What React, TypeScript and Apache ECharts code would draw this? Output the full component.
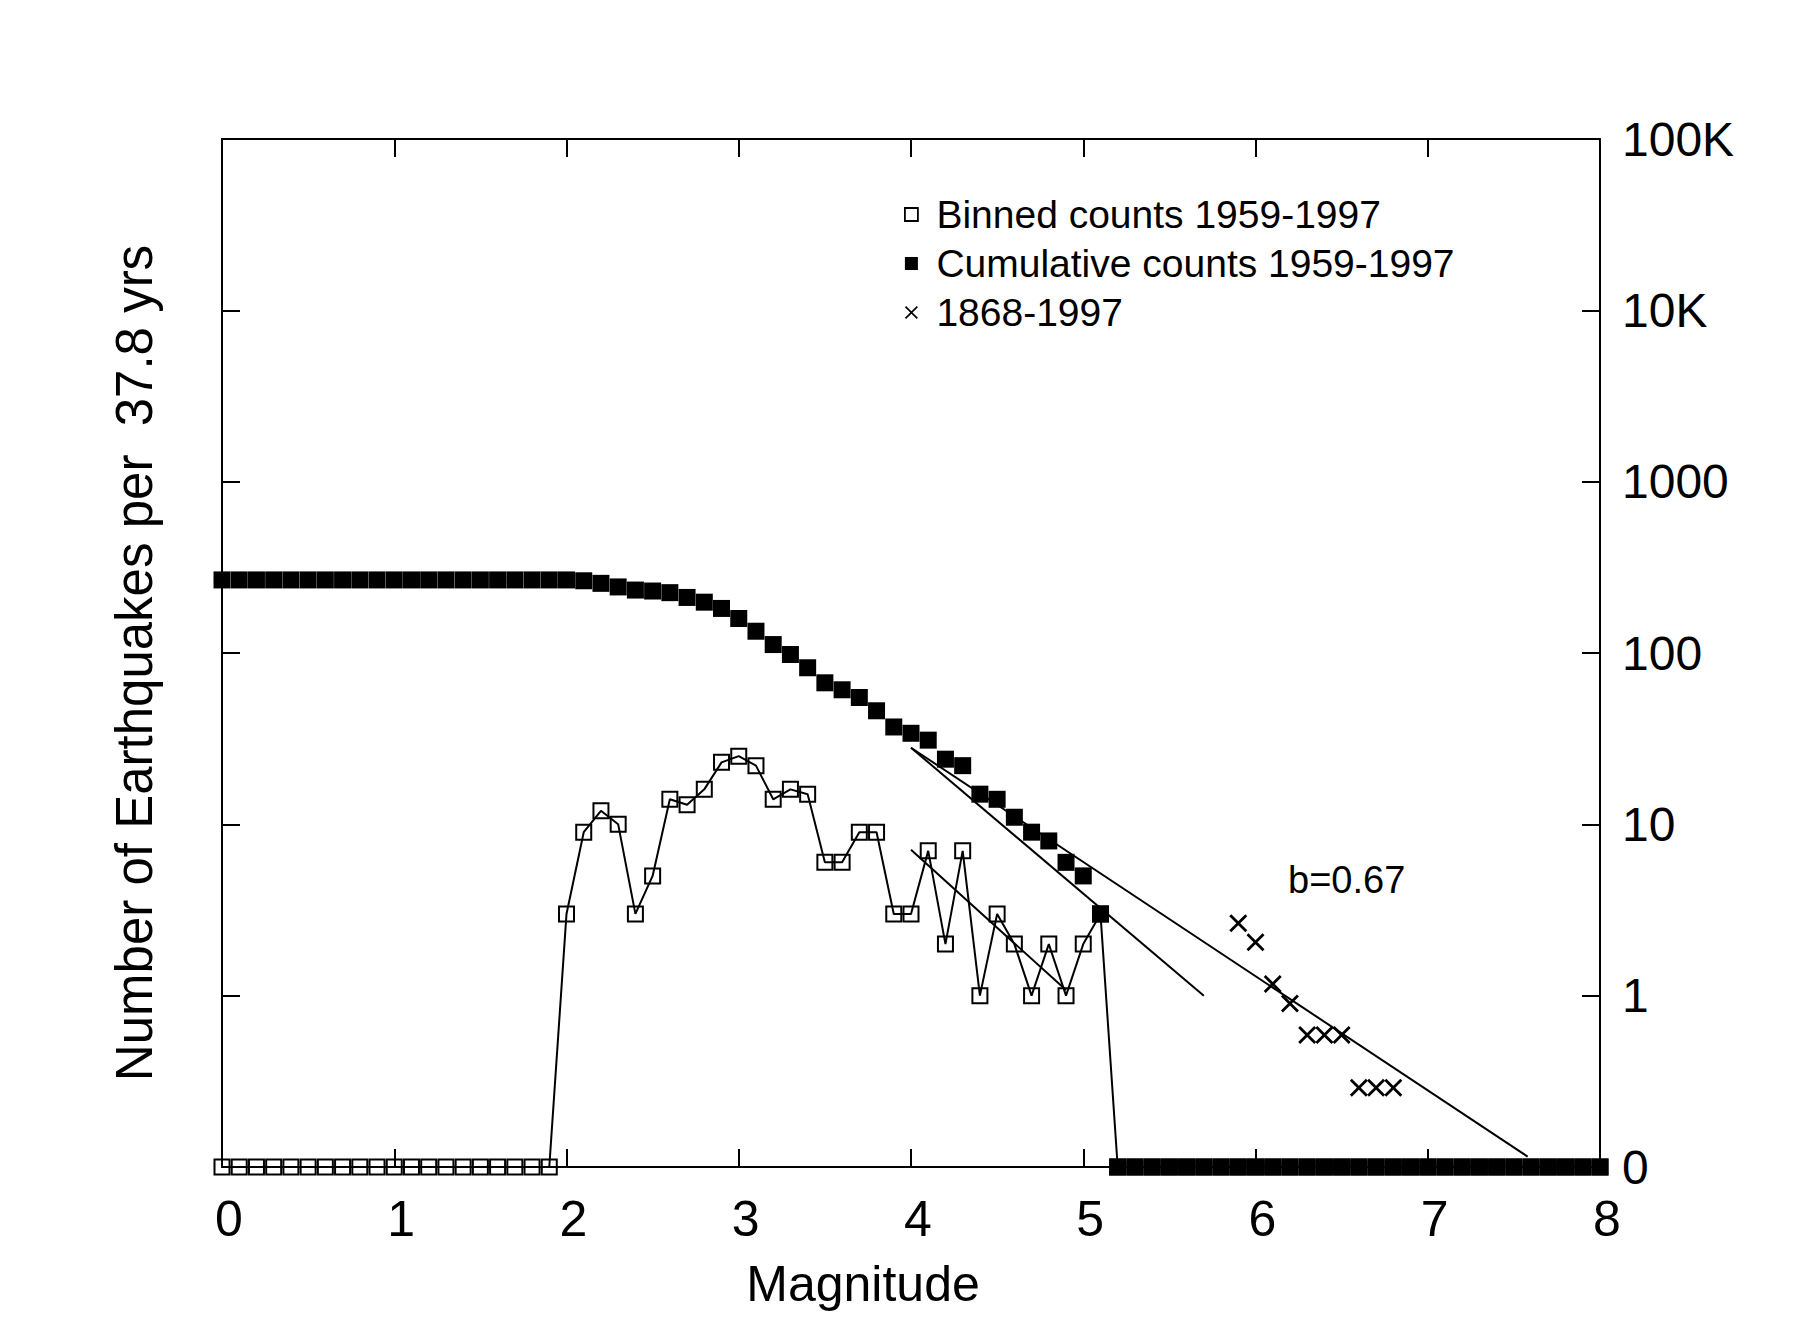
import React, { useEffect, useRef } from "react";
import * as echarts from "echarts";

// ---------------- data ----------------
const MAGNITUDES = [
  0.0, 0.1, 0.2, 0.3, 0.4, 0.5, 0.6, 0.7, 0.8, 0.9,
  1.0, 1.1, 1.2, 1.3, 1.4, 1.5, 1.6, 1.7, 1.8, 1.9,
  2.0, 2.1, 2.2, 2.3, 2.4, 2.5, 2.6, 2.7, 2.8, 2.9,
  3.0, 3.1, 3.2, 3.3, 3.4, 3.5, 3.6, 3.7, 3.8, 3.9,
  4.0, 4.1, 4.2, 4.3, 4.4, 4.5, 4.6, 4.7, 4.8, 4.9,
  5.0, 5.1, 5.2, 5.3, 5.4, 5.5, 5.6, 5.7, 5.8, 5.9,
  6.0, 6.1, 6.2, 6.3, 6.4, 6.5, 6.6, 6.7, 6.8, 6.9,
  7.0, 7.1, 7.2, 7.3, 7.4, 7.5, 7.6, 7.7, 7.8, 7.9,
  8.0,
];

// Binned counts 1959-1997 (0 is drawn on the "0" line at the bottom)
const BINNED_COUNTS = [
  0, 0, 0, 0, 0, 0, 0, 0, 0, 0,
  0, 0, 0, 0, 0, 0, 0, 0, 0, 0,
  3, 9, 12, 10, 3, 5, 14, 13, 16, 23,
  25, 22, 14, 16, 15, 6, 6, 9, 9, 3,
  3, 7, 2, 7, 1, 3, 2, 1, 2, 1,
  2, 3, 0, 0, 0, 0, 0, 0, 0, 0,
  0, 0, 0, 0, 0, 0, 0, 0, 0, 0,
  0, 0, 0, 0, 0, 0, 0, 0, 0, 0,
  0,
];

// Cumulative counts 1959-1997
const CUMULATIVE_COUNTS = [
  267, 267, 267, 267, 267, 267, 267, 267, 267, 267,
  267, 267, 267, 267, 267, 267, 267, 267, 267, 267,
  267, 264, 255, 243, 233, 230, 225, 211, 198, 182,
  159, 134, 112, 98, 82, 67, 61, 55, 46, 37,
  34, 31, 24, 22, 15, 14, 11, 9, 8, 6,
  5, 3, 0, 0, 0, 0, 0, 0, 0, 0,
  0, 0, 0, 0, 0, 0, 0, 0, 0, 0,
  0, 0, 0, 0, 0, 0, 0, 0, 0, 0,
  0,
];

// 1868-1997 (rate per 37.8 yrs)
const HIST_MAGNITUDES = [5.9, 6.0, 6.1, 6.2, 6.3, 6.4, 6.5, 6.6, 6.7, 6.8];
const HIST_RATES = [2.65, 2.05, 1.17, 0.9, 0.59, 0.59, 0.59, 0.29, 0.29, 0.29];

// fitted lines (end points)
const FIT_B067 = [[4.0, 28], [7.58, 0.115]];
const FIT_CUM_STEEP = [[4.0, 28], [5.7, 1.0]];
const FIT_BINNED = [[4.0, 7.1], [4.9, 1.08]];

const Y_TICK_LABELS = ["0", "1", "10", "100", "1000", "10K", "100K"];
const X_TITLE = "Magnitude";
const Y_TITLE = "Number of Earthquakes per  37.8 yrs";
const B_LABEL = "b=0.67";
const LEGEND_NAMES = ["Binned counts 1959-1997", "Cumulative counts 1959-1997", "1868-1997"];

// ---------------- styling ----------------
const FONT = "'Liberation Sans', Arial, Helvetica, sans-serif";
const ZERO_LEVEL = 0.1; // bottom of the log axis, labelled "0"
const SQUARE_PATH = "path://M0,0L10,0L10,10L0,10Z";
const CROSS_PATH =
  "path://M1.1,0L5,3.9L8.9,0L10,1.1L6.1,5L10,8.9L8.9,10L5,6.1L1.1,10L0,8.9L3.9,5L0,1.1Z";
const LEGEND_CROSS_PATH =
  "path://M0.9,0L5,4.1L9.1,0L10,0.9L5.9,5L10,9.1L9.1,10L5,5.9L0.9,10L0,9.1L4.1,5L0,0.9Z";

const toPlot = (v: number) => (v <= 0 ? ZERO_LEVEL : v);

function buildOption() {
  const axisLine = { show: true, onZero: false, lineStyle: { color: "#000", width: 2 } };
  const axisTick = { show: true, inside: true, length: 18, lineStyle: { color: "#000", width: 2 } };
  const fitLine = (data: number[][]) => ({
    type: "line",
    data,
    symbol: "none",
    lineStyle: { color: "#000", width: 2 },
    clip: false,
    silent: true,
    z: 3,
  });

  return {
    animation: false,
    backgroundColor: "#fff",
    grid: { left: 222, right: 200, top: 139, bottom: 175, containLabel: false },
    xAxis: [
      {
        type: "value",
        min: 0,
        max: 8,
        interval: 1,
        position: "bottom",
        axisLine,
        axisTick,
        splitLine: { show: false },
        axisLabel: {
          color: "#000",
          fontSize: 50,
          fontFamily: FONT,
          margin: 27,
          padding: [0, 0, 0, 14],
        },
        name: X_TITLE,
        nameLocation: "middle",
        nameGap: 92,
        nameTextStyle: { color: "#000", fontSize: 50, fontFamily: FONT, padding: [0, 96, 0, 0] },
      },
      {
        type: "value",
        min: 0,
        max: 8,
        interval: 1,
        position: "top",
        axisLine,
        axisTick,
        splitLine: { show: false },
        axisLabel: { show: false },
      },
    ],
    yAxis: [
      {
        type: "log",
        logBase: 10,
        min: ZERO_LEVEL,
        max: 100000,
        splitNumber: 6,
        position: "right",
        axisLine,
        axisTick,
        splitLine: { show: false },
        minorTick: { show: false },
        axisLabel: {
          color: "#000",
          fontSize: 48,
          fontFamily: FONT,
          margin: 22,
          formatter: (v: number) => Y_TICK_LABELS[Math.round(Math.log10(v)) + 1] ?? "",
        },
      },
      {
        type: "log",
        logBase: 10,
        min: ZERO_LEVEL,
        max: 100000,
        splitNumber: 6,
        position: "left",
        axisLine,
        axisTick,
        splitLine: { show: false },
        axisLabel: { show: false },
        name: Y_TITLE,
        nameLocation: "middle",
        nameGap: 62,
        nameTextStyle: { color: "#000", fontSize: 51, fontFamily: FONT, padding: [0, 20, 0, 0] },
      },
    ],
    legend: {
      orient: "vertical",
      left: 899,
      top: 190,
      itemWidth: 40,
      itemHeight: 13,
      itemGap: 10,
      selectedMode: false,
      textStyle: { color: "#000", fontSize: 39, lineHeight: 39, fontFamily: FONT },
      data: [
        {
          name: LEGEND_NAMES[0],
          icon: SQUARE_PATH,
          itemStyle: { color: "#fff", borderColor: "#000", borderWidth: 1.8, opacity: 1 },
        },
        {
          name: LEGEND_NAMES[1],
          icon: SQUARE_PATH,
          itemStyle: { color: "#000", borderWidth: 0, opacity: 1 },
        },
        {
          name: LEGEND_NAMES[2],
          icon: LEGEND_CROSS_PATH,
          itemStyle: { color: "#000", borderWidth: 0, opacity: 1 },
        },
      ],
    },
    graphic: [
      {
        type: "text",
        x: 1288,
        y: 880,
        style: {
          text: B_LABEL,
          fontSize: 38,
          fontFamily: FONT,
          fill: "#000",
          verticalAlign: "middle",
          align: "left",
        },
      },
    ],
    series: [
      {
        name: LEGEND_NAMES[0],
        type: "line",
        data: MAGNITUDES.map((m, i) => [m, toPlot(BINNED_COUNTS[i])]),
        symbol: "rect",
        symbolSize: 15,
        showAllSymbol: true,
        itemStyle: { color: "rgba(0,0,0,0)", borderColor: "#000", borderWidth: 2 },
        lineStyle: { color: "#000", width: 2 },
        clip: false,
        z: 2,
      },
      {
        name: LEGEND_NAMES[1],
        type: "scatter",
        data: MAGNITUDES.map((m, i) => [m, toPlot(CUMULATIVE_COUNTS[i])]),
        symbol: "rect",
        symbolSize: 17,
        itemStyle: { color: "#000", opacity: 1 },
        clip: false,
        z: 4,
      },
      {
        name: LEGEND_NAMES[2],
        type: "scatter",
        data: HIST_MAGNITUDES.map((m, i) => [m, HIST_RATES[i]]),
        symbol: CROSS_PATH,
        symbolSize: 18,
        itemStyle: { color: "#000", opacity: 1 },
        clip: false,
        z: 4,
      },
      fitLine(FIT_B067),
      fitLine(FIT_CUM_STEEP),
      fitLine(FIT_BINNED),
    ],
  };
}

export default function App() {
  const ref = useRef<HTMLDivElement>(null);
  useEffect(() => {
    if (!ref.current) return;
    const chart = echarts.init(ref.current, null, { renderer: "svg" });
    chart.setOption(buildOption() as any);
    return () => chart.dispose();
  }, []);
  return (
    <div
      ref={ref}
      style={{ position: "fixed", left: 0, top: 0, width: 1800, height: 1342, background: "#fff" }}
    />
  );
}
